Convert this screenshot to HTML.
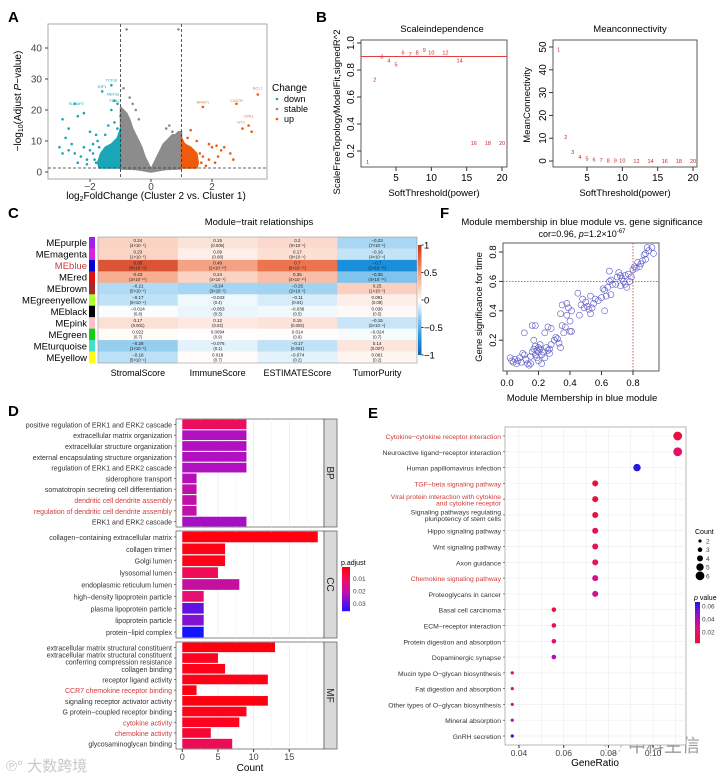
<!DOCTYPE html>
<html><head><meta charset="utf-8">
<style>
html,body{margin:0;padding:0;background:#fff;}
svg{display:block;font-family:"Liberation Sans","Noto Sans CJK SC",sans-serif;}
</style></head>
<body>
<svg id="fig" width="726" height="778" viewBox="0 0 726 778" xmlns="http://www.w3.org/2000/svg">
<rect x="0" y="0" width="726" height="778" fill="#fff"/>
<text x="8" y="22" font-size="15" font-weight="bold">A</text>
<text x="316" y="22" font-size="15" font-weight="bold">B</text>
<text x="8" y="218" font-size="15" font-weight="bold">C</text>
<text x="440" y="218" font-size="15" font-weight="bold">F</text>
<text x="8" y="416" font-size="15" font-weight="bold">D</text>
<text x="368" y="418" font-size="15" font-weight="bold">E</text>

<g>
<rect x="48" y="24" width="219" height="155" fill="#fff" stroke="#aaa" stroke-width="1"/>
<text transform="translate(21,101) rotate(-90)" text-anchor="middle" font-size="10">−log<tspan font-size="7" dy="2">10</tspan><tspan dy="-2">(Adjust </tspan><tspan font-style="italic">P</tspan>−value)</text>
<text x="156" y="199" text-anchor="middle" font-size="10">log<tspan font-size="7" dy="2">2</tspan><tspan dy="-2">FoldChange (Cluster 2 vs. Cluster 1)</tspan></text>
<g>
<text x="272" y="91" font-size="10">Change</text>
<circle cx="277" cy="99" r="1.3" fill="#1aa6b7"/>
<text x="284" y="102" font-size="9">down</text>
<circle cx="277" cy="109" r="1.3" fill="#8c8c8c"/>
<text x="284" y="112" font-size="9">stable</text>
<circle cx="277" cy="119" r="1.3" fill="#f05a0c"/>
<text x="284" y="122" font-size="9">up</text>
</g>
</g>

<g>
<text x="442" y="32" text-anchor="middle" font-size="9.5">Scaleindependence</text>
<text x="434" y="196" text-anchor="middle" font-size="9.5">SoftThreshold(power)</text>
<text transform="translate(340,112) rotate(-90)" text-anchor="middle" font-size="9.5">ScaleFreeTopologyModelFit,signedR^2</text>
</g>
<g>
<text x="630" y="32" text-anchor="middle" font-size="9.5">Meanconnectivity</text>
<text x="625" y="196" text-anchor="middle" font-size="9.5">SoftThreshold(power)</text>
<text transform="translate(530,105) rotate(-90)" text-anchor="middle" font-size="9.5">MeanConnectivity</text>
</g>

<text x="259" y="225" text-anchor="middle" font-size="9.5">Module−trait relationships</text>

<text x="582" y="225" text-anchor="middle" font-size="9.5">Module membership in blue module vs. gene significance</text>
<text x="582" y="237" text-anchor="middle" font-size="9">cor=0.96, <tspan font-style="italic">p</tspan>=1.2×10<tspan font-size="6" dy="-4">-67</tspan></text>
<text x="582" y="401" text-anchor="middle" font-size="9.5">Module Membership in blue module</text>
<text transform="translate(482,307) rotate(-90)" text-anchor="middle" font-size="9.5">Gene significance for time</text>

<text x="250" y="771" text-anchor="middle" font-size="10">Count</text>
<text x="595" y="766" text-anchor="middle" font-size="10">GeneRatio</text>

<text x="6" y="771" font-size="15" fill="#c8c8c8">℗° 大数跨境</text>
<text x="628" y="752" font-size="18" fill="#9a9a9a">中科生信</text>
<circle cx="613" cy="746" r="8" fill="none" stroke="#bbb" stroke-dasharray="2 2"/>
</svg>

<script>
const downFC  = [-2.9,-2.7,-2.8,-2.5,-2.4,-2.2,-2.0,-1.8,-1.5,-1.3,-1.6,-1.2,-1.1,-1.3,-1.0,-3.0,-2.9,-2.7,-2.5,-2.3,-2.1,-2.6,-2.0,-1.9,-1.7,-1.4,-1.2,-1.1,-2.2,-2.4,-1.8,-1.6,-1.9,-2.1,-1.75,-1.85];
const downP   = [17,14,11,22,18,19,13,12,12,28,26,23,22,20,18,8,6,7,6,5,4,9,7,9,8,15,16,14,8,3,3,5,6,2.5,10,4];
const upFC    = [3.5,2.8,1.7,3.2,3.0,3.3,1.3,2.4,2.6,2.2,1.9,2.0,1.8,2.1,1.5,1.6,1.2,2.7,2.3,1.4,1.1,1.3,1.7,1.65,1.9,2.15];
const upP     = [25,22,21,15,14,13,13.5,8,6,5,9,8,2,3,10,6,11,4,7,4,9,7,5,3,4,8.5];
const stableFC= [-0.8,0.9,-0.9,-0.6,-0.4,0.6,0.5,-0.7,-0.5,0.7];
const stableP = [46,46,27,22,17,15,14,24,20,13];
const grayEnvFC = [-1,-0.9,-0.8,-0.7,-0.6,-0.5,-0.4,-0.3,-0.2,-0.1,0,0.1,0.2,0.3,0.4,0.5,0.6,0.7,0.8,0.9,1,1,0.5,0.3,0,-0.3,-0.5,-1];
const grayEnvP  = [21,20,19,17,14,12,10,8,5,3,1,3,5,7,9,10,11,12,12,13,13,1,0.8,0.5,0,0.5,0.8,1];
const downEnvFC = [-1,-1,-1.1,-1.3,-1.5,-1.65,-1.75,-1.7];
const downEnvP  = [1.3,14,11,9,8,6,3,1.3];
const upEnvFC   = [1,1,1.1,1.3,1.5,1.55,1.5];
const upEnvP    = [1.3,11,9,8,6,3,1.3];
const geneNames = ["TCF18","E2F1","MEF2a","FBN1","SLMAP2","BRAP1","CASTR","BCL1","CPA1","NTS"];
const geneFC    = [-1.3,-1.6,-1.25,-1.2,-2.45,1.7,2.8,3.5,3.2,2.95];
const geneP     = [28.5,26.5,24,22,21,21.5,22,26,17,15];
const volcXTicks = [-2,0,2];
const volcYTicks = [0,10,20,30,40];

const powers = [1,2,3,4,5,6,7,8,9,10,12,14,16,18,20];
const r2     = [0.12,0.73,0.90,0.87,0.84,0.93,0.92,0.93,0.95,0.93,0.93,0.87,0.26,0.26,0.26];
const meanK  = [49,10.5,3.9,1.8,1.0,0.7,0.5,0.3,0.2,0.15,0.1,0.05,0.03,0.02,0.01];
const bXTicks = [5,10,15,20];
const r2Ticks = [0.2,0.4,0.6,0.8,1.0];
const kTicks  = [0,10,20,30,40,50];

const modules = ["MEpurple","MEmagenta","MEblue","MEred","MEbrown","MEgreenyellow","MEblack","MEpink","MEgreen","MEturquoise","MEyellow"];
const moduleColors = ["#a020f0","#e020e0","#0000e0","#e01010","#a52a2a","#adff2f","#000000","#ffc0cb","#10d010","#40e0d0","#ffff00"];
const traits = ["StromalScore","ImmuneScore","ESTIMATEScore","TumorPurity"];
const corStromal  = [0.24,0.23,0.85,0.43,-0.21,-0.17,-0.014,0.17,0.022,-0.28,-0.18];
const corImmune   = [0.15,0.09,0.49,0.24,-0.24,-0.043,-0.053,0.12,0.0094,-0.076,0.018];
const corEstimate = [0.2,0.17,0.7,0.35,-0.25,-0.11,-0.036,0.15,0.014,-0.17,-0.074];
const corPurity   = [-0.23,-0.16,-0.7,-0.35,0.25,0.091,0.036,-0.15,-0.024,0.14,0.061];
const pStromal  = ["(4×10⁻⁵)","(1×10⁻⁵)","(6×10⁻¹¹)","(3×10⁻¹⁰)","(5×10⁻⁵)","(8×10⁻⁴)","(0.8)","(0.001)","(0.7)","(1×10⁻⁸)","(5×10⁻⁴)"];
const pImmune   = ["(0.005)","(0.08)","(2×10⁻¹⁰)","(4×10⁻⁵)","(3×10⁻⁵)","(0.4)","(0.3)","(0.02)","(0.9)","(0.1)","(0.7)"];
const pEstimate = ["(9×10⁻⁵)","(8×10⁻⁴)","(6×10⁻¹⁰)","(4×10⁻¹⁰)","(2×10⁻⁵)","(0.04)","(0.5)","(0.003)","(0.8)","(0.001)","(0.2)"];
const pPurity   = ["(7×10⁻⁵)","(4×10⁻⁴)","(1×10⁻¹⁰)","(4×10⁻¹⁰)","(1×10⁻⁵)","(0.08)","(0.5)","(5×10⁻⁴)","(0.7)","(0.007)","(0.2)"];
const cbTicks = [1,0.5,0,-0.5,-1];

const mm = [0.02,0.03,0.04,0.05,0.06,0.07,0.08,0.09,0.10,0.11,0.11,0.12,0.13,0.14,0.15,0.15,0.16,0.16,0.17,0.17,0.18,0.18,0.18,0.19,0.19,0.20,0.20,0.20,0.21,0.21,0.22,0.22,0.23,0.24,0.24,0.25,0.26,0.26,0.27,0.27,0.28,0.28,0.30,0.31,0.32,0.33,0.34,0.34,0.35,0.35,0.36,0.37,0.38,0.38,0.39,0.40,0.40,0.41,0.41,0.45,0.46,0.47,0.48,0.49,0.50,0.51,0.52,0.53,0.53,0.54,0.55,0.56,0.58,0.60,0.61,0.62,0.62,0.63,0.64,0.65,0.65,0.66,0.66,0.67,0.69,0.70,0.71,0.72,0.72,0.73,0.74,0.75,0.75,0.76,0.77,0.78,0.79,0.80,0.81,0.82,0.83,0.84,0.85,0.86,0.87,0.88,0.89,0.90,0.92,0.93,0.88];
const gs = [0.08,0.06,0.05,0.07,0.04,0.06,0.08,0.05,0.11,0.10,0.25,0.07,0.04,0.03,0.04,0.09,0.30,0.12,0.20,0.14,0.30,0.10,0.16,0.13,0.08,0.15,0.12,0.06,0.14,0.17,0.10,0.04,0.12,0.25,0.08,0.15,0.29,0.13,0.14,0.11,0.28,0.17,0.20,0.22,0.21,0.18,0.15,0.38,0.44,0.30,0.25,0.29,0.45,0.37,0.42,0.33,0.26,0.40,0.26,0.52,0.37,0.44,0.48,0.42,0.46,0.43,0.41,0.38,0.50,0.42,0.45,0.48,0.47,0.49,0.55,0.54,0.40,0.50,0.56,0.67,0.60,0.51,0.61,0.58,0.58,0.63,0.66,0.64,0.57,0.62,0.60,0.64,0.58,0.56,0.65,0.60,0.63,0.68,0.70,0.69,0.73,0.70,0.72,0.74,0.78,0.79,0.83,0.81,0.83,0.79,0.75];
const fXTicks = [0.0,0.2,0.4,0.6,0.8];
const fYTicks = [0.2,0.4,0.6,0.8];

const bpTerms = ["positive regulation of ERK1 and ERK2 cascade","extracellular matrix organization","extracellular structure organization","external encapsulating structure organization","regulation of ERK1 and ERK2 cascade","siderophore transport","somatotropin secreting cell differentiation","dendritic cell dendrite assembly","regulation of dendritic cell dendrite assembly","ERK1 and ERK2 cascade"];
const bpCount = [9,9,9,9,9,2,2,2,2,9];
const bpPadj  = [0.010,0.022,0.022,0.022,0.022,0.021,0.019,0.019,0.019,0.023];
const ccTerms = ["collagen−containing extracellular matrix","collagen trimer","Golgi lumen","lysosomal lumen","endoplasmic reticulum lumen","high−density lipoprotein particle","plasma lipoprotein particle","lipoprotein particle","protein−lipid complex"];
const ccCount = [19,6,6,5,8,3,3,3,3];
const ccPadj  = [0.001,0.002,0.002,0.009,0.018,0.012,0.029,0.026,0.036];
const mfTerms = ["extracellular matrix structural constituent","extracellular matrix structural constituent|conferring compression resistance","collagen binding","receptor ligand activity","CCR7 chemokine receptor binding","signaling receptor activator activity","G protein−coupled receptor binding","cytokine activity","chemokine activity","glycosaminoglycan binding"];
const mfCount = [13,5,6,12,2,12,9,8,4,7];
const mfPadj  = [0.001,0.003,0.002,0.002,0.001,0.001,0.002,0.003,0.005,0.009];
const highlightTerms = ["dendritic cell dendrite assembly","regulation of dendritic cell dendrite assembly","CCR7 chemokine receptor binding","cytokine activity","chemokine activity","Cytokine−cytokine receptor interaction","TGF−beta signaling pathway","Viral protein interaction with cytokine|and cytokine receptor","Chemokine signaling pathway"];
const dXTicks = [0,5,10,15];
const padjTicks = [0.01,0.02,0.03];

const keggTerms = ["Cytokine−cytokine receptor interaction","Neuroactive ligand−receptor interaction","Human papillomavirus infection","TGF−beta signaling pathway","Viral protein interaction with cytokine|and cytokine receptor","Signaling pathways regulating|pluripotency of stem cells","Hippo signaling pathway","Wnt signaling pathway","Axon guidance","Chemokine signaling pathway","Proteoglycans in cancer","Basal cell carcinoma","ECM−receptor interaction","Protein digestion and absorption","Dopaminergic synapse","Mucin type O−glycan biosynthesis","Fat digestion and absorption","Other types of O−glycan biosynthesis","Mineral absorption","GnRH secretion"];
const keggRatio = [0.111,0.111,0.0928,0.0741,0.0741,0.0741,0.0741,0.0741,0.0741,0.0741,0.0741,0.0556,0.0556,0.0556,0.0556,0.037,0.037,0.037,0.037,0.037];
const keggCount = [6,6,5,4,4,4,4,4,4,4,4,3,3,3,3,2,2,2,2,2];
const keggP     = [0.010,0.020,0.065,0.006,0.007,0.009,0.014,0.016,0.019,0.028,0.031,0.008,0.016,0.024,0.040,0.012,0.018,0.028,0.040,0.066];
const eXTicks = [0.04,0.06,0.08,0.10];
const countLegend = [2,3,4,5,6];
const pLegendTicks = [0.06,0.04,0.02];

const NS='http://www.w3.org/2000/svg';
const svg=document.getElementById('fig');
function mk(tag,attrs,text){const e=document.createElementNS(NS,tag);for(const k in attrs)e.setAttribute(k,attrs[k]);if(text!==undefined)e.textContent=text;svg.appendChild(e);return e;}
function hex(c){return [parseInt(c.slice(1,3),16),parseInt(c.slice(3,5),16),parseInt(c.slice(5,7),16)];}
function grad(stops,t){t=Math.max(0,Math.min(1,t));for(let i=1;i<stops.length;i++){if(t<=stops[i][0]){const a=stops[i-1],b=stops[i];const u=(t-a[0])/(b[0]-a[0]||1);const ca=hex(a[1]),cb=hex(b[1]);return 'rgb('+ca.map((v,k)=>Math.round(v+(cb[k]-v)*u)).join(',')+')';}}return stops[stops.length-1][1];}

// PANEL A
const ax=v=>151+v*30.5, ay=v=>172-v*3.1;
function poly(fx,py,fill,name){const pts=fx.map((v,i)=>ax(v).toFixed(1)+','+ay(py[i]).toFixed(1)).join(' ');
  const e=mk('polygon',{points:pts,fill:fill,stroke:fill,'stroke-width':1.5,'stroke-linejoin':'round'});
  
  }
poly(grayEnvFC,grayEnvP,'#8c8c8c','stable-gene-cloud');
poly(downEnvFC,downEnvP,'#1aa6b7','down-gene-cloud');
poly(upEnvFC,upEnvP,'#f05a0c','up-gene-cloud');
function pts(fx,py,col,name){fx.forEach((v,i)=>{const e=mk('circle',{cx:ax(v),cy:ay(py[i]),r:1.3,fill:col});
  
  });}
pts(downFC,downP,'#1aa6b7','down-gene-point');
pts(upFC,upP,'#f05a0c','up-gene-point');
pts(stableFC,stableP,'#8c8c8c','stable-gene-point');
geneNames.forEach((g,i)=>{const e=mk('text',{x:ax(geneFC[i]),y:ay(geneP[i])-2,'font-size':3.8,'text-anchor':'middle',fill:geneFC[i]<0?'#1aa6b7':'#e0803a'},g);
  
  });
[-1,1].forEach(v=>{const e=mk('line',{x1:ax(v),x2:ax(v),y1:24,y2:179,stroke:'#333','stroke-dasharray':'3 2','stroke-width':0.8});
  
  });
{const e=mk('line',{x1:48,x2:267,y1:ay(1.3),y2:ay(1.3),stroke:'#333','stroke-dasharray':'3 2','stroke-width':0.8});
  
  }
volcYTicks.forEach(v=>{const t=mk('text',{x:42,y:ay(v)+3.5,'text-anchor':'end','font-size':10,fill:'#444'},String(v));
  
  
  const l=mk('line',{x1:45,x2:48,y1:ay(v),y2:ay(v),stroke:'#444'});
  
  });
volcXTicks.forEach(v=>{const t=mk('text',{x:ax(v),y:190,'text-anchor':'middle','font-size':10,fill:'#444'},v<0?'−'+(-v):String(v));
  
  
  const l=mk('line',{x1:ax(v),x2:ax(v),y1:179,y2:182,stroke:'#444'});
  
  });

// PANEL B
function rPlot(x0,x1,y0,y1,bx,by,yTicks,yfmt,vals,prefix,line){
  const f=mk('rect',{x:x0,y:y0,width:x1-x0,height:y1-y0,fill:'none',stroke:'#333','stroke-width':0.8});
  
  
  bXTicks.forEach(v=>{const l=mk('line',{x1:bx(v),x2:bx(v),y1:y1,y2:y1+4,stroke:'#333'});
    
    
    const t=mk('text',{x:bx(v),y:y1+14,'text-anchor':'middle','font-size':10},String(v));
    
    });
  yTicks.forEach(v=>{const l=mk('line',{x1:x0-4,x2:x0,y1:by(v),y2:by(v),stroke:'#333'});
    
    
    const t=mk('text',{transform:`translate(${x0-7},${by(v)}) rotate(-90)`,'text-anchor':'middle','font-size':10},yfmt(v));
    
    });
  if(line!==undefined){const l=mk('line',{x1:x0,x2:x1,y1:by(line),y2:by(line),stroke:'#e04040','stroke-width':1});
    
    }
  powers.forEach((p,i)=>{const t=mk('text',{x:bx(p),y:by(vals[i])+2,'text-anchor':'middle','font-size':5.5,fill:'#d02020'},String(p));
    
    });
}
const b1x=v=>367.7+(v-1)*7.07, b1y=v=>43+(1-v)*135;
rPlot(361,507,40,167,b1x,b1y,r2Ticks,v=>v.toFixed(1),r2,'scale-independence',0.9);
const b2x=v=>558.7+(v-1)*7.07, b2y=v=>161-v*2.28;
rPlot(553,697,40,167,b2x,b2y,kTicks,v=>String(v),meanK,'mean-connectivity');

// PANEL C
const hx0=98,hx1=417,hy0=237,hy1=363;
const cw=(hx1-hx0)/4, rh=(hy1-hy0)/11;
const corStops=[[0,'#1060a8'],[0.15,'#1a90dc'],[0.35,'#8fcbef'],[0.5,'#ffffff'],[0.7,'#f7b59a'],[0.85,'#ee7450'],[1,'#c8351a']];
const corCols=[corStromal,corImmune,corEstimate,corPurity];
const pCols=[pStromal,pImmune,pEstimate,pPurity];
modules.forEach((m,i)=>{
  const y=hy0+i*rh;
  const s=mk('rect',{x:89,y:y,width:6,height:rh+0.2,fill:moduleColors[i]});
  
  
  const t=mk('text',{x:87,y:y+rh/2+3.5,'text-anchor':'end','font-size':9.5,fill:m==='MEblue'?'#d03a3a':'#000'},m);
  
  
  corCols.forEach((col,j)=>{
    const c=mk('rect',{x:hx0+j*cw,y:y,width:cw+0.3,height:rh+0.3,fill:grad(corStops,(col[i]+1)/2)});
    
    
    const v=mk('text',{x:hx0+j*cw+cw/2,y:y+4.8,'text-anchor':'middle','font-size':4.5,fill:'#222'},String(col[i]).replace('-','−'));
    
    
    const p=mk('text',{x:hx0+j*cw+cw/2,y:y+9.8,'text-anchor':'middle','font-size':4.2,fill:'#222'},pCols[j][i]);
    
    
  });
});
{const f=mk('rect',{x:hx0,y:hy0,width:hx1-hx0,height:hy1-hy0,fill:'none',stroke:'#999','stroke-width':0.6});
  
  }
traits.forEach((t,j)=>{const e=mk('text',{x:hx0+j*cw+cw/2,y:376,'text-anchor':'middle','font-size':9},t);
  
  });
const cby=v=>300-v*55;
for(let k=0;k<44;k++){const v=1-k*2/44;const e=mk('rect',{x:418,y:cby(v),width:3.5,height:2.6,fill:grad(corStops,(v+1)/2)});
  
  }
cbTicks.forEach(v=>{const l=mk('line',{x1:421.5,x2:423.5,y1:cby(v),y2:cby(v),stroke:'#333'});
  
  
  const t=mk('text',{x:424,y:cby(v)+3.5,'font-size':9.5},String(v).replace('-','−'));
  
  });

// PANEL F
const fx=v=>507+v*157.5, fy=v=>252+(0.8-v)*147;
{const f=mk('rect',{x:503,y:243,width:156,height:128,fill:'none',stroke:'#333','stroke-width':0.8});
  
  }
mm.forEach((v,i)=>{const c=mk('circle',{cx:fx(v),cy:fy(gs[i]),r:3,fill:'none',stroke:'#5a5ac8','stroke-width':0.6});
  
  });
{const l=mk('line',{x1:fx(0.8),x2:fx(0.8),y1:243,y2:371,stroke:'#d03030','stroke-dasharray':'1.5 1.5','stroke-width':0.8});
  
  
  const h=mk('line',{x1:503,x2:659,y1:fy(0.6),y2:fy(0.6),stroke:'#d03030','stroke-dasharray':'1.5 1.5','stroke-width':0.8});
  
  }
fXTicks.forEach(v=>{const l=mk('line',{x1:fx(v),x2:fx(v),y1:371,y2:375,stroke:'#333'});
  
  
  const t=mk('text',{x:fx(v),y:386,'text-anchor':'middle','font-size':9.5},v.toFixed(1));
  
  });
fYTicks.forEach(v=>{const l=mk('line',{x1:499,x2:503,y1:fy(v),y2:fy(v),stroke:'#333'});
  
  
  const t=mk('text',{transform:`translate(496,${fy(v)}) rotate(-90)`,'text-anchor':'middle','font-size':9.5},v.toFixed(1));
  
  });

// PANEL D
const dx=v=>182.3+v*7.13;
const padjStops=[[0,'#ff0010'],[0.3,'#e8106a'],[0.6,'#b010c0'],[1,'#1414ff']];
const padjT=p=>(p-0.001)/0.035;
function label(x,y,text,anchor,size,name){
  const lines=text.split('|');const col=highlightTerms.includes(text)?'#d03a3a':'#333';
  lines.forEach((ln,k)=>{const e=mk('text',{x:x,y:y+3+(k-(lines.length-1)/2)*(size*0.95),'text-anchor':anchor,'font-size':size,fill:col},ln);
    
    });
}
function facet(terms,counts,padj,top,bottom,strip){
  const bg=mk('rect',{x:176,y:top,width:148,height:bottom-top,fill:'#fff',stroke:'#555','stroke-width':0.7});
  
  
  [0,2.5,5,7.5,10,12.5,15,17.5].forEach(v=>{const g=mk('line',{x1:dx(v),x2:dx(v),y1:top,y2:bottom,stroke:v%5===0?'#e4e4e4':'#f2f2f2','stroke-width':0.6});
    
    });
  const n=terms.length;const step=(bottom-top)/n;
  terms.forEach((t,i)=>{const cy=top+step*(i+0.5);
    const b=mk('rect',{x:dx(0),y:cy-step*0.45,width:dx(counts[i])-dx(0),height:step*0.9,fill:grad(padjStops,padjT(padj[i]))});
    
    
    const tk=mk('line',{x1:174,x2:176,y1:cy,y2:cy,stroke:'#333','stroke-width':0.6});
    
    
    label(172,cy,t,'end',7,'go-term-label');});
  const s=mk('rect',{x:324,y:top,width:13,height:bottom-top,fill:'#d9d9d9',stroke:'#555','stroke-width':0.7});
  
  
  const st=mk('text',{transform:`translate(327,${(top+bottom)/2}) rotate(90)`,'text-anchor':'middle','font-size':10,fill:'#222'},strip);
  
  
}
facet(bpTerms,bpCount,bpPadj,419,527,'BP');
facet(ccTerms,ccCount,ccPadj,531,638,'CC');
facet(mfTerms,mfCount,mfPadj,642,749,'MF');
dXTicks.forEach(v=>{const l=mk('line',{x1:dx(v),x2:dx(v),y1:749,y2:752,stroke:'#333'});
  
  
  const t=mk('text',{x:dx(v),y:760,'text-anchor':'middle','font-size':9,fill:'#444'},String(v));
  
  });
{const t=mk('text',{x:341,y:565,'font-size':7},'p.adjust');
  
  }
const py=p=>567+(p-0.001)/0.035*44;
for(let k=0;k<22;k++){const p=0.001+k*0.035/22;const e=mk('rect',{x:342,y:py(p),width:8,height:2.2,fill:grad(padjStops,padjT(p))});
  
  }
padjTicks.forEach(v=>{const t=mk('text',{x:353,y:py(v)+2.5,'font-size':6.5,fill:'#444'},v.toFixed(2));
  
  });

// PANEL E
const ex=v=>519+(v-0.04)*2235;
const ey0=436, estep=(736-436)/19;
const pStops=[[0,'#ea1028'],[0.35,'#e0107a'],[0.7,'#9a10c8'],[1,'#2414e6']];
const pT=p=>(p-0.003)/0.063;
const rad=c=>1.6+(c-2)*0.7;
{const f=mk('rect',{x:505,y:427,width:181,height:318,fill:'#fff',stroke:'#999','stroke-width':0.7});
  
  }
[0.03,0.04,0.05,0.06,0.07,0.08,0.09,0.10,0.11].forEach(v=>{if(ex(v)<505||ex(v)>686)return;
  const g=mk('line',{x1:ex(v),x2:ex(v),y1:427,y2:745,stroke:'#ececec','stroke-width':0.6});
  
  });
keggTerms.forEach((t,i)=>{const cy=ey0+i*estep;
  const g=mk('line',{x1:505,x2:686,y1:cy,y2:cy,stroke:'#ececec','stroke-width':0.6});
  
  
  const tk=mk('line',{x1:503,x2:505,y1:cy,y2:cy,stroke:'#333','stroke-width':0.6});
  
  
  label(501,cy,t,'end',6.8,'kegg-term-label');});
keggTerms.forEach((t,i)=>{const c=mk('circle',{cx:ex(keggRatio[i]),cy:ey0+i*estep,r:rad(keggCount[i]),fill:grad(pStops,pT(keggP[i]))});
  
  });
eXTicks.forEach(v=>{const l=mk('line',{x1:ex(v),x2:ex(v),y1:745,y2:748,stroke:'#333'});
  
  
  const t=mk('text',{x:ex(v),y:756,'text-anchor':'middle','font-size':8.5,fill:'#444'},v.toFixed(2));
  
  });
{const t=mk('text',{x:695,y:534,'font-size':7},'Count');
  
  }
countLegend.forEach((c,k)=>{const y=541+k*8.7;
  const e=mk('circle',{cx:700,cy:y,r:rad(c),fill:'#000'});
  
  
  const t=mk('text',{x:706,y:y+2.5,'font-size':6.5,fill:'#444'},String(c));
  
  });
{const t=mk('text',{x:694,y:600,'font-size':7},'');
  
  
  const a=document.createElementNS(NS,'tspan');a.setAttribute('font-style','italic');a.textContent='p';t.appendChild(a);
  const b=document.createElementNS(NS,'tspan');b.textContent=' value';t.appendChild(b);}
const pvy=p=>602+(0.066-p)/0.063*41;
for(let k=0;k<20;k++){const p=0.066-k*0.063/20;const e=mk('rect',{x:695,y:pvy(p),width:5,height:2.3,fill:grad(pStops,pT(p))});
  
  }
pLegendTicks.forEach(v=>{const t=mk('text',{x:702,y:pvy(v)+2.5,'font-size':6.5,fill:'#444'},v.toFixed(2));
  
  });
</script>
</body></html>
